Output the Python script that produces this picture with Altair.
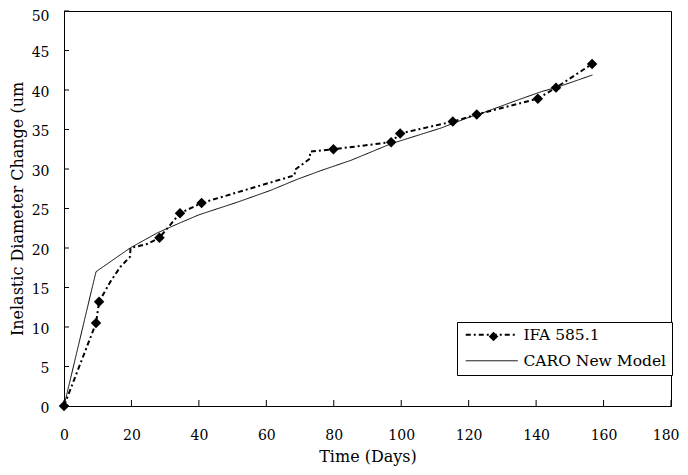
import altair as alt
import pandas as pd

series_names = ["IFA 585.1", "CARO New Model"]

# IFA 585.1 measured points (markers)
ifa_days = [0, 9.5, 10.4, 28.3, 34.4, 40.8, 79.9, 97.0, 99.7, 115.3, 122.4, 140.5, 145.9, 156.6]
ifa_um = [0, 10.5, 13.2, 21.3, 24.4, 25.7, 32.5, 33.4, 34.5, 36.0, 36.9, 38.9, 40.3, 43.3]

# IFA 585.1 connecting dotted path (as drawn, including small jumps)
ifa_path_days = [0, 9.5, 10.4, 13.7, 16.7, 19.6, 19.7, 24.6, 28.3, 34.4, 40.8, 68.4, 68.5,
                 72.9, 73.0, 79.9, 97.0, 99.7, 115.3, 122.4, 140.5, 145.9, 156.6]
ifa_path_um = [0, 10.5, 13.2, 15.7, 17.6, 18.9, 20.0, 20.5, 21.3, 24.4, 25.7, 29.2, 29.9,
               31.3, 32.2, 32.5, 33.4, 34.5, 36.0, 36.9, 38.9, 40.3, 43.3]

# CARO New Model curve
caro_days = [0, 7.7, 9.5, 19.6, 27.6, 34.5, 40.0, 51.4, 61.3, 69.2, 76.2, 85.1, 97.0,
             111.9, 119.8, 124.8, 133.7, 141.6, 146.6, 156.7]
caro_um = [0, 13.8, 17.0, 20.0, 21.9, 23.2, 24.2, 25.8, 27.3, 28.7, 29.8, 31.1, 33.2,
           35.2, 36.5, 37.2, 38.6, 39.8, 40.4, 41.9]

x_ticks = list(range(0, 181, 20))
y_ticks = list(range(0, 51, 5))

dash_styles = [[5, 3, 2, 3], [1, 0]]
line_widths = [2, 1]

lines_df = pd.concat([
    pd.DataFrame({"series": series_names[0], "day": ifa_path_days, "um": ifa_path_um,
                  "idx": range(len(ifa_path_days))}),
    pd.DataFrame({"series": series_names[1], "day": caro_days, "um": caro_um,
                  "idx": range(len(caro_days))}),
])
points_df = pd.DataFrame({"series": series_names[0], "day": ifa_days, "um": ifa_um})
xtick_df = pd.DataFrame({"t": x_ticks})
ytick_df = pd.DataFrame({"t": y_ticks})

FONT = "DejaVu Serif"
W, H = 607, 395
xscale = alt.Scale(domain=[0, 180], nice=False)
yscale = alt.Scale(domain=[0, 50], nice=False)

x_main = alt.X("day:Q", scale=xscale,
               axis=alt.Axis(values=x_ticks, title="Time (Days)", ticks=False,
                             labelPadding=22, titlePadding=6, labelFlush=False,
                             labelOverlap=False,
                             labelAlign={"condition": {"test": "datum.value >= 180", "value": "right"},
                                         "value": "center"},
                             labelOffset={"condition": {"test": "datum.value >= 180", "value": 8},
                                          "value": 0}))
y_main = alt.Y("um:Q", scale=yscale,
               axis=alt.Axis(values=y_ticks, title="Inelastic Diameter Change (um", ticks=False,
                             labelPadding=15, titlePadding=6, labelFlush=False,
                             labelOverlap=False,
                             labelOffset={"condition": {"test": "datum.value >= 50", "value": 5},
                                          "value": 2}))

# main legend: line samples + labels
legend_lines = alt.Legend(
    title=None, orient="none", legendX=393, legendY=311, direction="vertical",
    strokeColor="black", fillColor="white", padding=5, cornerRadius=0,
    labelFont=FONT, labelFontSize=15.5, labelColor="black", labelOffset=24, labelLimit=300,
    symbolType="M-5.2,0L5.2,0", symbolSize=100, symbolOffset=22,
    symbolStrokeColor="black", symbolOpacity=1, rowPadding=9,
)
# marker legend laid over the IFA line sample
legend_marker = alt.Legend(
    title=None, orient="none", legendX=424, legendY=320, direction="vertical",
    padding=0, labelExpr="''", labelFontSize=1, labelOffset=0, symbolOffset=0,
    symbolSize=90, symbolFillColor="black", symbolStrokeColor="black", symbolOpacity=1,
)

lines = alt.Chart(lines_df).mark_line(color="black", clip=False).encode(
    x=x_main, y=y_main,
    strokeDash=alt.StrokeDash("series:N", scale=alt.Scale(domain=series_names, range=dash_styles),
                              legend=legend_lines),
    strokeWidth=alt.StrokeWidth("series:N", scale=alt.Scale(domain=series_names, range=line_widths),
                                legend=legend_lines),
    order="idx:Q",
)

points = alt.Chart(points_df).mark_point(filled=True, color="black", size=110,
                                         opacity=1, clip=False).encode(
    x=alt.X("day:Q", axis=None), y=alt.Y("um:Q", axis=None),
    shape=alt.Shape("series:N", scale=alt.Scale(domain=[series_names[0]], range=["diamond"]),
                    legend=legend_marker),
)

# inward tick marks along the bottom and left edges
x_tick_marks = alt.Chart(xtick_df).mark_rule(color="black", strokeWidth=1).encode(
    x=alt.X("t:Q", axis=None), y=alt.YDatum(0, axis=None), y2=alt.Y2Datum(0.76))
y_tick_marks = alt.Chart(ytick_df).mark_rule(color="black", strokeWidth=1).encode(
    y=alt.Y("t:Q", axis=None), x=alt.XDatum(0, axis=None), x2=alt.X2Datum(1.48))

chart = alt.layer(lines, x_tick_marks, y_tick_marks, points).resolve_axis(
    x="independent", y="independent"
).properties(
    width=W, height=H,
    autosize=alt.AutoSizeParams(type="none"),
    padding={"left": 56, "top": 3, "right": 9, "bottom": 61},
).configure_view(stroke="black", strokeWidth=1).configure_axis(
    grid=False, domainColor="black", tickColor="black", labelColor="black", titleColor="black",
    labelFont=FONT, titleFont=FONT, labelFontSize=14, titleFontSize=16, titleFontWeight="normal",
)

chart.save("out.html", embed_options={"renderer": "svg", "actions": False})
